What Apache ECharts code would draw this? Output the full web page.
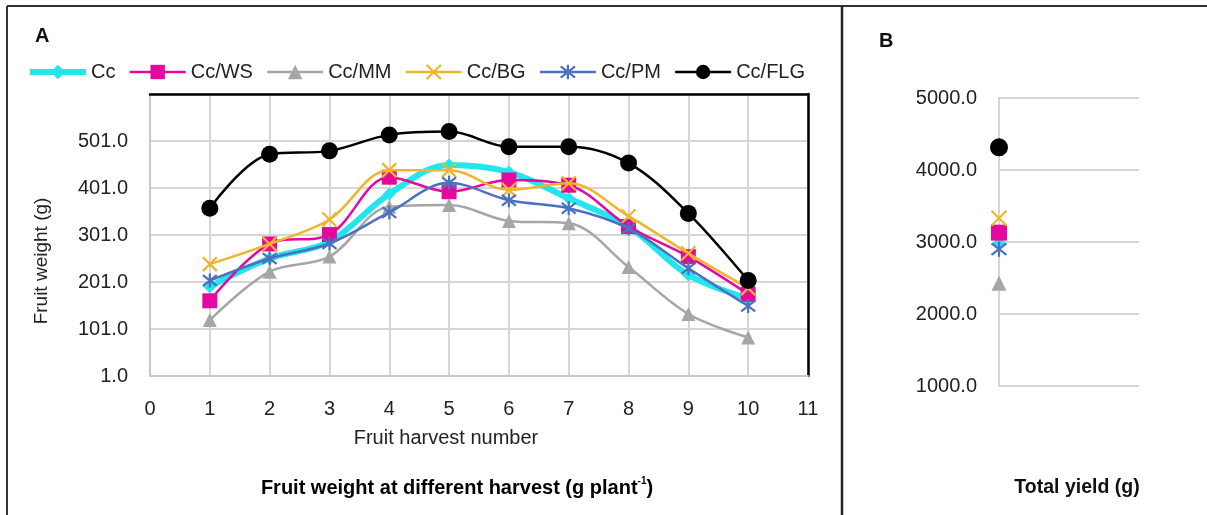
<!DOCTYPE html>
<html>
<head>
<meta charset="utf-8">
<script src="https://cdn.jsdelivr.net/npm/echarts@6/dist/echarts.min.js"></script>
<style>html,body{margin:0;padding:0;background:#fff}#c{width:1207px;height:515px}</style>
</head>
<body>
<div id="c"></div>
<script>
var harvests = [1, 2, 3, 4, 5, 6, 7, 8, 9, 10];
var seriesNames = ['Cc', 'Cc/WS', 'Cc/MM', 'Cc/BG', 'Cc/PM', 'Cc/FLG'];
var ccWeight  = [191, 251, 287, 388, 450, 435, 379, 319, 216, 166];
var wsWeight  = [161, 282, 302, 424, 393, 418, 407, 319, 255, 175];
var mmWeight  = [120, 223, 255, 361, 365, 331, 326, 233, 133, 83];
var bgWeight  = [239, 282, 334, 439, 439, 397, 411, 341, 262, 188];
var pmWeight  = [204, 251, 283, 349, 412, 375, 358, 315, 230, 150];
var flgWeight = [358, 473, 480, 514, 521, 489, 489, 454, 347, 204];
var totalYield = [2980, 3130, 2426, 3329, 2900, 4315];
var weightTicks = [1, 101, 201, 301, 401, 501, 601];
var yieldTicks = [1000, 2000, 3000, 4000, 5000];

var FONT = "'Liberation Sans', Arial, sans-serif";
var colors = ['#22e5ee', '#e5089e', '#a6a6a6', '#efb52c', '#4a72c0', '#000000'];
var symbols = ['diamond', 'rect', 'triangle',
  'path://M0,0L10,10M10,0L0,10',
  'path://M0,0L10,10M10,0L0,10M5,-1.5L5,11.5',
  'circle'];
var symSizes = [13, 15, 14, 14, 14, 17];
var lineWidths = [6, 2.5, 2.5, 2.5, 2.5, 2.5];
var weights = [ccWeight, wsWeight, mmWeight, bgWeight, pmWeight, flgWeight];

function isStroke(i) { return i === 3 || i === 4; }
function itemStyleFor(i) {
  return isStroke(i) ? { color: 'rgba(0,0,0,0)', borderColor: colors[i], borderWidth: 2.2, opacity: 1 } : { color: colors[i], borderWidth: 0, opacity: 1 };
}

var series = [];
weights.forEach(function (w, i) {
  series.push({
    name: seriesNames[i], type: 'line', xAxisIndex: 0, yAxisIndex: 0,
    data: harvests.map(function (h, k) { return [h, w[k]]; }),
    smooth: 0.35, symbol: symbols[i], symbolSize: symSizes[i], showSymbol: true,
    color: colors[i],
    lineStyle: { color: colors[i], width: lineWidths[i] },
    itemStyle: itemStyleFor(i),
    z: 2 + i, animation: false
  });
});
totalYield.forEach(function (v, i) {
  series.push({
    name: seriesNames[i], type: 'scatter', xAxisIndex: 2, yAxisIndex: 2,
    data: [[0, v]], symbol: symbols[i], symbolSize: symSizes[i] + 1,
    color: colors[i],
    itemStyle: itemStyleFor(i),
    z: 2 + i, animation: false
  });
});

var gridLine = { show: true, lineStyle: { color: '#d6d6d6', width: 2 } };
var labelStyle = { color: '#222', fontFamily: FONT, fontSize: 20 };

var option = {
  animation: false,
  backgroundColor: '#fff',
  legend: {
    data: seriesNames.map(function (n, i) {
      return { name: n, itemStyle: itemStyleFor(i), lineStyle: { width: i === 0 ? 6 : 2.5, color: colors[i] } };
    }),
    left: 22, top: 57, itemWidth: 56, itemHeight: 18, itemGap: 13,
    textStyle: { color: '#222', fontFamily: FONT, fontSize: 20 }
  },
  grid: [
    { left: 150, right: 1207 - 808, top: 94, bottom: 515 - 376 },
    { left: 999, right: 1207 - 1139, top: 98, bottom: 515 - 386 }
  ],
  xAxis: [
    { type: 'value', gridIndex: 0, min: 0, max: 11, interval: 1,
      axisLine: { show: true, lineStyle: { color: '#c8c8c8', width: 2 } },
      axisTick: { show: false },
      axisLabel: Object.assign({ margin: 23 }, labelStyle),
      splitLine: gridLine },
    { type: 'value', gridIndex: 0, position: 'top', min: 0, max: 11, interval: 1,
      axisLine: { show: true, onZero: false, lineStyle: { color: '#000', width: 2.5 } },
      axisTick: { show: false }, axisLabel: { show: false }, splitLine: { show: false } },
    { type: 'value', gridIndex: 1, min: 0, max: 1, show: false }
  ],
  yAxis: [
    { type: 'value', gridIndex: 0, min: weightTicks[0], max: weightTicks[weightTicks.length - 1], interval: 100,
      axisLine: { show: true, lineStyle: { color: '#c8c8c8', width: 2 } },
      axisTick: { show: false },
      axisLabel: Object.assign({ margin: 22, formatter: function (v) { return v === 601 ? '' : v.toFixed(1); } }, labelStyle),
      splitLine: gridLine },
    { type: 'value', gridIndex: 0, position: 'right', min: 1, max: 601, interval: 100,
      axisLine: { show: true, onZero: false, lineStyle: { color: '#000', width: 2.5 } },
      axisTick: { show: false }, axisLabel: { show: false }, splitLine: { show: false } },
    { type: 'value', gridIndex: 1, min: yieldTicks[0], max: yieldTicks[yieldTicks.length - 1], interval: 1000,
      axisLine: { show: true, lineStyle: { color: '#d6d6d6', width: 2 } },
      axisTick: { show: false },
      axisLabel: Object.assign({ margin: 22, formatter: function (v) { return v.toFixed(1); } }, labelStyle),
      splitLine: gridLine }
  ],
  series: series,
  graphic: [
    { type: 'line', shape: { x1: 7, y1: 6, x2: 1207, y2: 6 }, style: { stroke: '#333', lineWidth: 2 }, silent: true },
    { type: 'line', shape: { x1: 7, y1: 6, x2: 7, y2: 515 }, style: { stroke: '#333', lineWidth: 2 }, silent: true },
    { type: 'line', shape: { x1: 842, y1: 6, x2: 842, y2: 515 }, style: { stroke: '#222', lineWidth: 2.5 }, silent: true },
    { type: 'text', left: 35, top: 26, style: { text: 'A', fontFamily: FONT, fontWeight: 'bold', fontSize: 20, fill: '#111' } },
    { type: 'text', left: 879, top: 31, style: { text: 'B', fontFamily: FONT, fontWeight: 'bold', fontSize: 20, fill: '#111' } },
    { type: 'text', x: 42, y: 261, rotation: Math.PI / 2, style: { text: 'Fruit weight (g)', fontFamily: FONT, fontSize: 19, fill: '#222', align: 'center', verticalAlign: 'middle' } },
    { type: 'text', x: 446, y: 438, style: { text: 'Fruit harvest number', fontFamily: FONT, fontSize: 20, fill: '#222', align: 'center', verticalAlign: 'middle' } },
    { type: 'text', x: 457, y: 488, style: {
        text: '{a|Fruit weight at different harvest (g plant}{s|-1}{a|)}',
        align: 'center', verticalAlign: 'middle',
        rich: {
          a: { fontFamily: FONT, fontWeight: 'bold', fontSize: 20, color: '#111' },
          s: { fontFamily: FONT, fontWeight: 'bold', fontSize: 10, color: '#111', padding: [0, 0, 13, 0] }
        } } },
    { type: 'text', x: 1077, y: 488, style: { text: 'Total yield (g)', fontFamily: FONT, fontWeight: 'bold', fontSize: 19.5, fill: '#111', align: 'center', verticalAlign: 'middle' } }
  ]
};
var chart = echarts.init(document.getElementById('c'), null, { renderer: 'canvas' });
chart.setOption(option);
</script>
</body>
</html>
